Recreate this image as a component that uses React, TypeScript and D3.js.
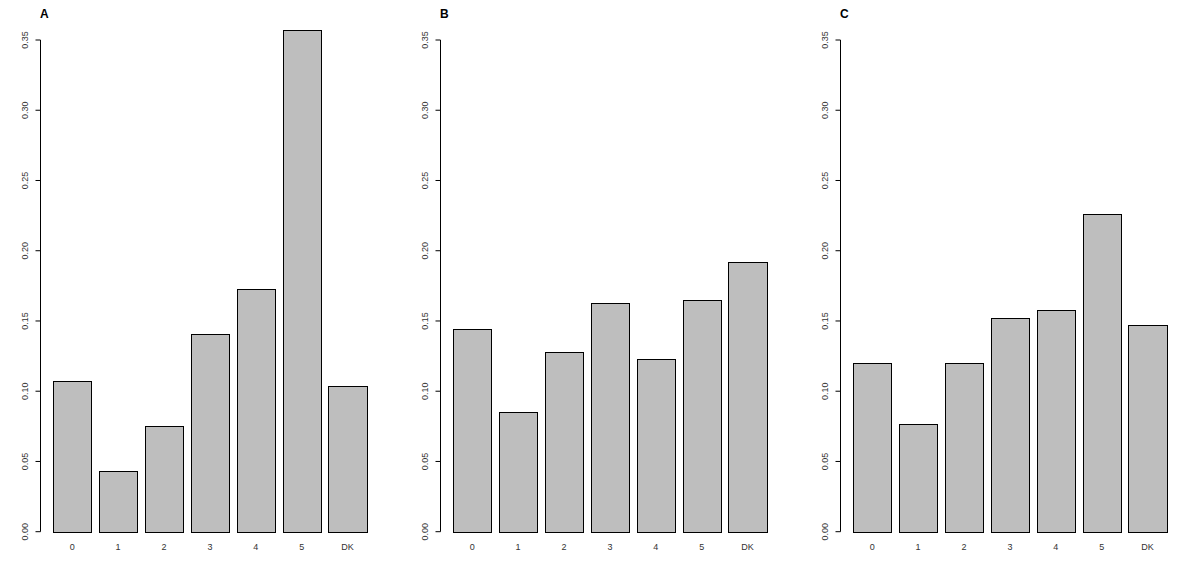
import React from "react";
import * as d3 from "d3";

const categories = ["0", "1", "2", "3", "4", "5", "DK"];
const panelTitles = ["A", "B", "C"];
const valuesA = [0.107, 0.043, 0.075, 0.141, 0.173, 0.357, 0.104];
const valuesB = [0.144, 0.085, 0.128, 0.163, 0.123, 0.165, 0.192];
const valuesC = [0.12, 0.077, 0.12, 0.152, 0.158, 0.226, 0.147];
const yTicks = [0, 0.05, 0.1, 0.15, 0.2, 0.25, 0.3, 0.35];

const W = 1200;
const H = 583;
const panelWidth = 400;
const axisX = 40.5;
const plotRight = 379.3;
const yTop = 40;
const yBottom = 531.7;
const font = "'Liberation Sans', Arial, Helvetica, sans-serif";

// R barplot geometry: bars of width 1, space 0.2, usr extended by 4%
const xUnit = d3
  .scaleLinear()
  .domain([-0.128, 8.728])
  .range([axisX, plotRight]);

const y = d3.scaleLinear().domain([0, 0.35]).range([yBottom, yTop]);

function Panel({ title, values, offset }: { title: string; values: number[]; offset: number }) {
  return (
    <g transform={`translate(${offset},0)`}>
      <text x={40} y={18} fontFamily={font} fontWeight="bold" fontSize={12} fill="#000">
        {title}
      </text>
      {values.map((v, i) => {
        const l = xUnit(0.2 + i * 1.2);
        const r = xUnit(1.2 + i * 1.2);
        const top = y(v);
        return (
          <rect
            key={i}
            x={Math.round(l) + 0.5}
            y={Math.round(top) + 0.5}
            width={Math.round(r) - Math.round(l)}
            height={Math.round(y(0)) - Math.round(top)}
            fill="#BEBEBE"
            stroke="#000"
            strokeWidth={1}
          />
        );
      })}
      {categories.map((c, i) => {
        const cx = xUnit(0.7 + i * 1.2);
        return (
          <text
            key={c}
            x={cx}
            y={550}
            textAnchor="middle"
            fontFamily={font}
            fontSize={9}
            fill="#333"
          >
            {c}
          </text>
        );
      })}
      <line x1={axisX} x2={axisX} y1={y(0.35)} y2={y(0)} stroke="#000" strokeWidth={1} />
      {yTicks.map((t) => (
        <g key={t}>
          <line x1={axisX - 5} x2={axisX} y1={y(t)} y2={y(t)} stroke="#000" strokeWidth={1} />
          <text
            transform={`translate(${28},${y(t)}) rotate(-90)`}
            textAnchor="middle"
            fontFamily={font}
            fontSize={9}
            fill="#333"
          >
            {d3.format(".2f")(t)}
          </text>
        </g>
      ))}
    </g>
  );
}

export default function App() {
  const data = [valuesA, valuesB, valuesC];
  return (
    <svg
      width={W}
      height={H}
      style={{ position: "absolute", left: 0, top: 0, background: "#fff" }}
    >
      <rect x={0} y={0} width={W} height={H} fill="#fff" />
      {data.map((vals, k) => (
        <Panel key={k} title={panelTitles[k]} values={vals} offset={k * panelWidth} />
      ))}
    </svg>
  );
}
